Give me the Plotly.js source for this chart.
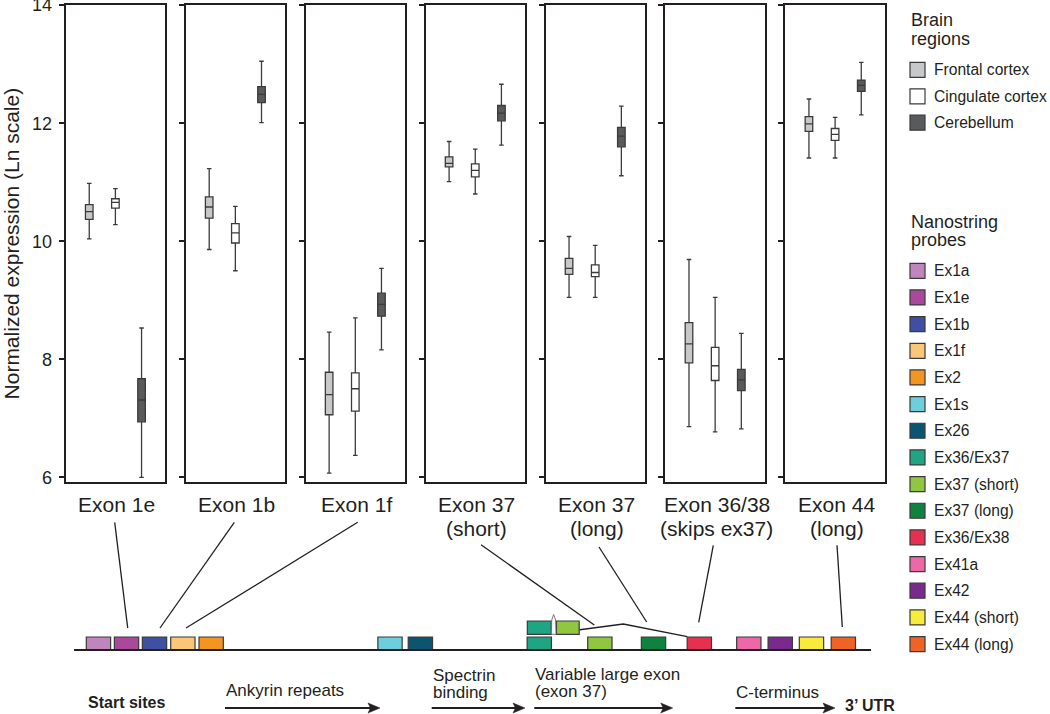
<!DOCTYPE html>
<html><head><meta charset="utf-8">
<script src="https://cdn.plot.ly/plotly-3.0.1.min.js"></script>
<style>html,body{margin:0;padding:0;background:#fff}#chart{width:1050px;height:714px}</style>
</head><body><div id="chart"></div>
<script>
// ---------------- DATA ----------------
const exonLabels = ['Exon 1e','Exon 1b','Exon 1f','Exon 37\n(short)','Exon 37\n(long)','Exon 36/38\n(skips ex37)','Exon 44\n(long)'];
const regions = ['Frontal cortex','Cingulate cortex','Cerebellum'];

const frontalUpper  = [10.98, 11.23, 8.46, 11.69, 10.08, 9.69, 12.41];
const frontalQ3     = [10.62, 10.75, 7.78, 11.43, 9.71, 8.62, 12.11];
const frontalMedian = [10.50, 10.58, 7.40, 11.32, 9.54, 8.26, 11.99];
const frontalQ1     = [10.37, 10.39, 7.06, 11.26, 9.44, 7.94, 11.86];
const frontalLower  = [10.04, 9.86, 6.07, 11.01, 9.05, 6.86, 11.41];

const cingulateUpper  = [10.89, 10.59, 8.70, 11.56, 9.93, 9.05, 12.10];
const cingulateQ3     = [10.72, 10.30, 7.77, 11.31, 9.60, 8.20, 11.91];
const cingulateMedian = [10.66, 10.14, 7.50, 11.20, 9.47, 7.89, 11.81];
const cingulateQ1     = [10.56, 9.97, 7.12, 11.09, 9.40, 7.64, 11.71];
const cingulateLower  = [10.28, 9.50, 6.37, 10.80, 9.05, 6.77, 11.41];

const cerebellumUpper  = [8.53, 13.05, 9.54, 12.66, 12.29, 8.44, 13.03];
const cerebellumQ3     = [7.67, 12.62, 9.12, 12.30, 11.93, 7.83, 12.73];
const cerebellumMedian = [7.31, 12.49, 8.93, 12.17, 11.78, 7.65, 12.64];
const cerebellumQ1     = [6.94, 12.35, 8.73, 12.04, 11.60, 7.47, 12.54];
const cerebellumLower  = [6.00, 12.01, 8.16, 11.63, 11.11, 6.82, 12.14];

const yTicks = [6, 8, 10, 12, 14];

const probes = ['Ex1a','Ex1e','Ex1b','Ex1f','Ex2','Ex1s','Ex26','Ex36/Ex37','Ex37 (short)','Ex37 (long)','Ex36/Ex38','Ex41a','Ex42','Ex44 (short)','Ex44 (long)'];
// schematic position along the gene (% of drawn gene length)
const probeGenePos = [3.07, 6.59, 10.10, 13.66, 17.21, 39.65, 43.46, 58.38, 65.98, 72.71, 78.46, 84.67, 88.61, 92.53, 96.53];
const spliceProbes = ['Ex36/Ex37','Ex37 (short)'];
const spliceGenePos = [58.38, 61.96];

const domainLabels = ['Start sites','Ankyrin repeats','Spectrin\nbinding','Variable large exon\n(exon 37)','C-terminus','3\u2019 UTR'];

// ---------------- STYLE ----------------
const W = 1050, H = 714;
const fx = p => p / W, fy = p => 1 - p / H;
const FONT = 'Liberation Sans, Arial, Helvetica, sans-serif';
const INK = '#231f20';
const regionFill = ['#c7c8ca', '#ffffff', '#595a5c'];
const boxLine = '#3b3b3b';
const probeColor = {
  'Ex1a':'#c085bd','Ex1e':'#a9489d','Ex1b':'#3f4fa1','Ex1f':'#f9c777','Ex2':'#f39521',
  'Ex1s':'#6dcfdd','Ex26':'#0b5571','Ex36/Ex37':'#20a584','Ex37 (short)':'#8fc740',
  'Ex37 (long)':'#10823f','Ex36/Ex38':'#e5314f','Ex41a':'#ee68a7','Ex42':'#7a2a8f',
  'Ex44 (short)':'#f8eb3b','Ex44 (long)':'#ef6324'
};

const stats = [
  [frontalUpper, frontalQ3, frontalMedian, frontalQ1, frontalLower],
  [cingulateUpper, cingulateQ3, cingulateMedian, cingulateQ1, cingulateLower],
  [cerebellumUpper, cerebellumQ3, cerebellumMedian, cerebellumQ1, cerebellumLower]
];

const traces = [];
const layout = {
  width: W, height: H,
  margin: {l:0, r:0, t:0, b:0},
  paper_bgcolor: '#fff', plot_bgcolor: 'rgba(0,0,0,0)',
  showlegend: false, hovermode: false, barmode: 'overlay', boxmode: 'overlay',
  font: {family: FONT, color: INK},
  shapes: [], annotations: []
};

const panelLeft0 = 65.7, panelStep = 119.95, panelW = 99.4;
const panelTop = 5, panelBottom = 482.3;

exonLabels.forEach((lab, i) => {
  const sfx = i === 0 ? '' : String(i + 1);
  const xa = 'x' + sfx, ya = 'y' + sfx;
  regions.forEach((reg, r) => {
    const s = stats[r];
    traces.push({
      type: 'box', name: reg, xaxis: xa, yaxis: ya,
      x: [r + 1],
      upperfence: [s[0][i]], q3: [s[1][i]], median: [s[2][i]], q1: [s[3][i]], lowerfence: [s[4][i]],
      width: 0.29, whiskerwidth: 0.6, boxpoints: false,
      fillcolor: regionFill[r], line: {color: boxLine, width: 1.3},
      showlegend: false, hoverinfo: 'skip'
    });
  });
  const left = panelLeft0 + i * panelStep;
  layout['xaxis' + sfx] = {
    domain: [fx(left), fx(left + panelW)], range: [0.1, 3.9], anchor: ya,
    showline: true, mirror: true, linecolor: INK, linewidth: 2,
    ticks: '', showticklabels: false, showgrid: false, zeroline: false, fixedrange: true
  };
  const yax = {
    domain: [fy(panelBottom), fy(panelTop)], range: [5.915, 14.003], anchor: xa,
    showline: true, mirror: true, linecolor: INK, linewidth: 2,
    ticks: 'outside', ticklen: 5, tickwidth: 2, tickcolor: INK,
    tickmode: 'array', tickvals: yTicks, ticktext: yTicks.map(String),
    showticklabels: i === 0, ticklabelstandoff: 3, ticklabeloverflow: 'allow',
    tickfont: {family: FONT, size: 18, color: INK},
    showgrid: false, zeroline: false, fixedrange: true
  };
  if (i === 0) {
    yax.title = {text: 'Normalized expression (Ln scale)', font: {family: FONT, size: 21, color: INK}, standoff: 22};
  }
  layout['yaxis' + sfx] = yax;

  // exon label (one annotation per line)
  const cx = left + panelW / 2;
  lab.split('\n').forEach((ln, k) => {
    layout.annotations.push({
      xref: 'paper', yref: 'paper', x: fx(cx + 1.5), y: fy(504.8 + k * 23.5),
      xanchor: 'center', yanchor: 'middle', showarrow: false,
      text: ln, font: {family: FONT, size: 21, color: INK}
    });
  });
});

// ---------------- GENE DIAGRAM ----------------
layout.xaxis8 = {domain: [fx(74), fx(871)], range: [0, 100], anchor: 'y8', visible: false, fixedrange: true};
layout.yaxis8 = {domain: [fy(660), fy(600)], range: [-1, 5], anchor: 'x8', visible: false, fixedrange: true};

traces.push({
  type: 'bar', xaxis: 'x8', yaxis: 'y8',
  x: probeGenePos, y: probes.map(() => 1.3), base: 0, width: 3.05,
  marker: {color: probes.map(p => probeColor[p]), line: {color: '#3a3a3a', width: 1.2}},
  text: probes, textposition: 'none', hoverinfo: 'skip', showlegend: false
});
traces.push({
  type: 'bar', xaxis: 'x8', yaxis: 'y8',
  x: spliceGenePos, y: [1.33, 1.33], base: 1.57, width: [3.0, 2.85],
  marker: {color: spliceProbes.map(p => probeColor[p]), line: {color: '#3a3a3a', width: 1.2}},
  text: spliceProbes, textposition: 'none', hoverinfo: 'skip', showlegend: false
});

// gene backbone
layout.shapes.push({type: 'line', xref: 'x8', yref: 'y8', x0: 0, x1: 100, y0: 0, y1: 0,
  line: {color: INK, width: 2}, layer: 'above'});

// splice connector and spike
const pp = (x, y) => fx(x).toFixed(5) + ',' + fy(y).toFixed(5);
layout.shapes.push({type: 'path', xref: 'paper', yref: 'paper',
  path: 'M' + pp(551.5, 633.5) + ' L' + pp(623.3, 624) + ' L' + pp(687.3, 636.7),
  line: {color: INK, width: 1.3}, layer: 'below'});
layout.shapes.push({type: 'path', xref: 'paper', yref: 'paper',
  path: 'M' + pp(551.3, 634.3) + ' L' + pp(551.8, 620) + ' L' + pp(553.6, 614.5) + ' L' + pp(555.6, 620) + ' L' + pp(556, 634.3) + ' Z',
  fillcolor: '#ffffff', line: {color: '#6a6a6a', width: 0.9}, layer: 'above'});

// connectors from panel labels to probes
const connectors = [
  [114.7, 522.3, 127.7, 628], [234.3, 522.3, 160, 628], [357.7, 522.3, 186, 628],
  [481, 544.7, 594.3, 625], [599, 547, 646.7, 622], [713.3, 545.3, 698.7, 622.3], [837, 545.3, 842.3, 627]
];
connectors.forEach(c => layout.shapes.push({type: 'line', xref: 'paper', yref: 'paper',
  x0: fx(c[0]), y0: fy(c[1]), x1: fx(c[2]), y1: fy(c[3]), line: {color: INK, width: 1.3}}));

// domain labels + arrows
const domainText = [
  {x: 86.7, y: [702.8], bold: true, size: 16},
  {x: 225.3, y: [690], size: 17, arrow: [225, 380]},
  {x: 431.7, y: [675, 692.5], size: 17, arrow: [431.7, 525]},
  {x: 534.3, y: [674.7, 691.5], size: 17, arrow: [534.3, 672.7]},
  {x: 735.3, y: [692.5], size: 17, arrow: [735.3, 835]},
  {x: 844, y: [705], bold: true, size: 16}
];
domainLabels.forEach((lab, i) => {
  const d = domainText[i];
  lab.split('\n').forEach((ln, k) => {
    layout.annotations.push({xref: 'paper', yref: 'paper', x: fx(d.x - 1), y: fy(d.y[k]),
      xanchor: 'left', yanchor: 'middle', showarrow: false,
      text: d.bold ? '<b>' + ln + '</b>' : ln, font: {family: FONT, size: d.size, color: INK}});
  });
  if (d.arrow) {
    const ay = 708, x0 = d.arrow[0], x1 = d.arrow[1];
    layout.shapes.push({type: 'line', xref: 'paper', yref: 'paper', x0: fx(x0), x1: fx(x1 - 6), y0: fy(ay), y1: fy(ay),
      line: {color: INK, width: 2}});
    layout.shapes.push({type: 'path', xref: 'paper', yref: 'paper',
      path: 'M' + pp(x1, ay) + ' L' + pp(x1 - 12, ay - 5) + ' L' + pp(x1 - 9.5, ay) + ' L' + pp(x1 - 12, ay + 5) + ' Z',
      fillcolor: INK, line: {color: INK, width: 0.5}});
  }
});

// ---------------- LEGENDS ----------------
const legX = 910, legTextX = 932;
function legendTitle(lines, ys) {
  lines.forEach((ln, k) => layout.annotations.push({xref: 'paper', yref: 'paper', x: fx(legX - 1.5), y: fy(ys[k]),
    xanchor: 'left', yanchor: 'middle', showarrow: false, text: ln, font: {family: FONT, size: 18, color: INK}}));
}
function legendItem(label, color, yc) {
  layout.shapes.push({type: 'rect', xref: 'paper', yref: 'paper',
    x0: fx(legX), x1: fx(legX + 15), y0: fy(yc + 7.5), y1: fy(yc - 7.5),
    fillcolor: color, line: {color: '#3a3a3a', width: 1.2}});
  layout.annotations.push({xref: 'paper', yref: 'paper', x: fx(legTextX), y: fy(yc),
    xanchor: 'left', yanchor: 'middle', showarrow: false, text: label, font: {family: FONT, size: 15.6, color: INK}});
}
legendTitle(['Brain', 'regions'], [20, 38.5]);
regions.forEach((reg, r) => legendItem(reg, regionFill[r], 69.9 + r * 26.4));
legendTitle(['Nanostring', 'probes'], [221.5, 240]);
probes.forEach((p, k) => legendItem(p, probeColor[p], 270.8 + k * 26.66));

Plotly.newPlot('chart', traces, layout, {staticPlot: true, displayModeBar: false});
</script>
</body></html>
